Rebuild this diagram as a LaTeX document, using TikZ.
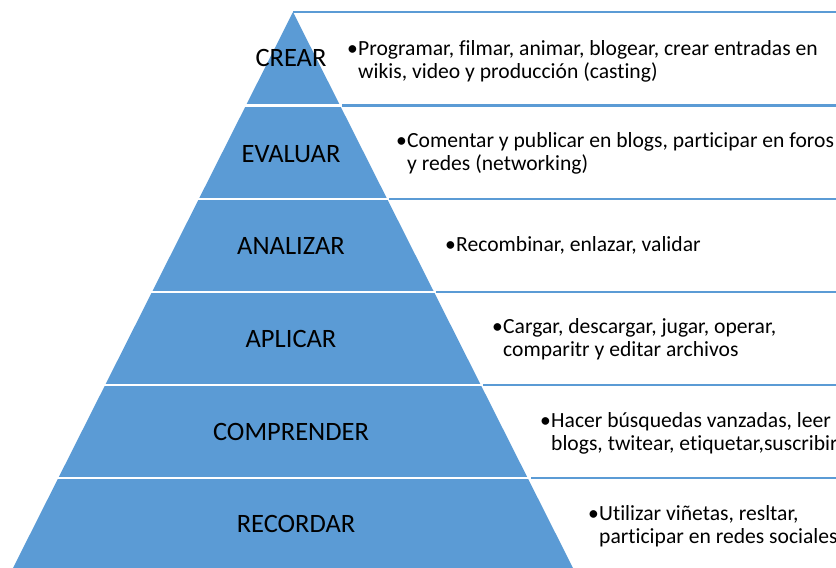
\documentclass[tikz,border=0pt]{standalone}
\usepackage{fontspec}
\setmainfont{Carlito}[Ligatures=NoCommon]
\definecolor{pyrblue}{HTML}{5B9BD5}
\newcommand\bulmark{\makebox[11pt][l]{\textbullet}}
\newcommand\desc[2]{\begin{tabular}[t]{@{}l@{}l@{}}\bulmark&#1\\&#2\end{tabular}}
\begin{document}
\begin{tikzpicture}[x=1pt,y=-1pt,
  layer/.style={fill=pyrblue},
  sep/.style={draw=white,line width=2.6pt},
  boxline/.style={draw=pyrblue,line width=2.6pt},
  title/.style={font=\fontsize{26.5}{30}\selectfont,inner sep=0pt,text=black},
  body/.style={font=\fontsize{21.6}{23.5}\selectfont,inner sep=0pt,anchor=base west,text=black}]
\useasboundingbox (0,0) rectangle (836,568);
\fill[white] (0,0) rectangle (836,568);
% pyramid
\fill[layer] (293,12) -- (13,568) -- (573,568) -- cycle;
\foreach \yy/\xl/\xr in {105.5/240/345, 199/193/392, 292/147/439, 385/100/486, 478/53/533}
  \draw[sep] (\xl,\yy) -- (\xr,\yy);
% text box lines
\coordinate (t0) at (293,12);
\coordinate (t1) at (342,105.5);
\coordinate (t2) at (389,199);
\coordinate (t3) at (436,292);
\coordinate (t4) at (483,385);
\coordinate (t5) at (531,478);
\foreach \c in {t0,t1,t2,t3,t4,t5}
  \draw[boxline] (\c) -- (\c -| 836,0);
% labels
\node[title] (crear) at (291,58) {CREAR};
\node[title] (evaluar) at (291,154) {EVALUAR};
\node[title] (analizar) at (291,246) {ANALIZAR};
\node[title] (aplicar) at (291,339) {APLICAR};
\node[title] (comprender) at (291,432) {COMPRENDER};
\node[title] (recordar) at (296,524) {RECORDAR};
% descriptions
\node[body] (d1) at (347,55) {\desc{Programar, filmar, animar, blogear, crear entradas en}{wikis, video y producción (casting)}};
\node[body] (d2) at (396,147) {\desc{Comentar y publicar en blogs, participar en foros}{y redes (networking)}};
\node[body] (d3) at (445,251) {\bulmark Recombinar, enlazar, validar};
\node[body] (d4) at (492,333) {\desc{Cargar, descargar, jugar, operar,}{comparitr y editar archivos}};
\node[body] (d5) at (540,427) {\desc{Hacer búsquedas vanzadas, leer}{blogs, twitear, etiquetar,suscribir}};
\node[body] (d6) at (588,520) {\desc{Utilizar viñetas, resltar,}{participar en redes sociales}};
\end{tikzpicture}
\end{document}
